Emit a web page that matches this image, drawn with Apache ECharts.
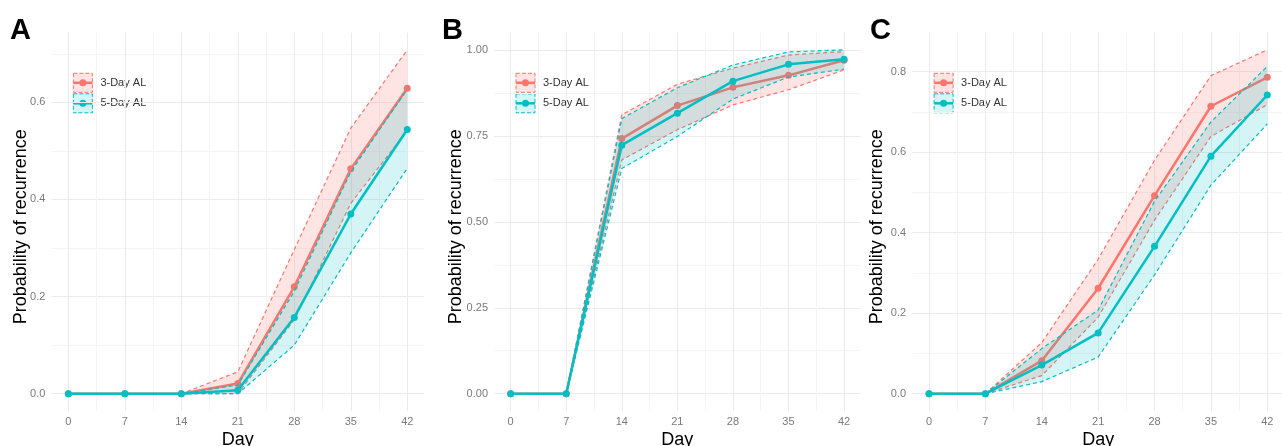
<!DOCTYPE html>
<html>
<head>
<meta charset="utf-8">
<script src="https://cdn.jsdelivr.net/npm/echarts@6/dist/echarts.min.js"></script>
<style>
  html, body { margin: 0; padding: 0; background: #ffffff; }
  #chart { width: 1282px; height: 446px; }
</style>
</head>
<body>
<div id="chart"></div>
<script>
// ---- data: probability of recurrence by day, estimate with lower/upper bounds ----
const days = [0, 7, 14, 21, 28, 35, 42];
const groupNames = ['3-Day AL', '5-Day AL'];

// Panel A
const estA3 = [0, 0, 0, 0.021, 0.220, 0.463, 0.629];
const lowA3 = [0, 0, 0, 0, 0.152, 0.392, 0.542];
const uppA3 = [0, 0, 0, 0.045, 0.297, 0.547, 0.708];
const estA5 = [0, 0, 0, 0.007, 0.157, 0.370, 0.544];
const lowA5 = [0, 0, 0, 0, 0.100, 0.290, 0.464];
const uppA5 = [0, 0, 0, 0.018, 0.211, 0.457, 0.627];

// Panel B
const estB3 = [0, 0, 0.742, 0.838, 0.891, 0.926, 0.970];
const lowB3 = [0, 0, 0.680, 0.768, 0.840, 0.884, 0.942];
const uppB3 = [0, 0, 0.811, 0.900, 0.947, 0.985, 0.995];
const estB5 = [0, 0, 0.723, 0.816, 0.909, 0.958, 0.973];
const lowB5 = [0, 0, 0.655, 0.748, 0.857, 0.921, 0.944];
const uppB5 = [0, 0, 0.800, 0.890, 0.956, 0.994, 1.000];

// Panel C
const estC3 = [0, 0, 0.082, 0.262, 0.492, 0.714, 0.786];
const lowC3 = [0, 0, 0.045, 0.190, 0.431, 0.639, 0.718];
const uppC3 = [0, 0, 0.127, 0.334, 0.580, 0.790, 0.854];
const estC5 = [0, 0, 0.071, 0.151, 0.366, 0.590, 0.742];
const lowC5 = [0, 0, 0.030, 0.091, 0.295, 0.518, 0.670];
const uppC5 = [0, 0, 0.112, 0.208, 0.478, 0.675, 0.813];

// ---- tick labels and grid breaks ----
const dayLabels = [0, 7, 14, 21, 28, 35, 42];
const dayBreaks = [0, 3.5, 7, 10.5, 14, 17.5, 21, 24.5, 28, 31.5, 35, 38.5, 42];
const yLabelsA = [0, 0.2, 0.4, 0.6];
const yBreaksA = [0, 0.1, 0.2, 0.3, 0.4, 0.5, 0.6, 0.7];
const yLabelsB = [0, 0.25, 0.5, 0.75, 1];
const yBreaksB = [0, 0.125, 0.25, 0.375, 0.5, 0.625, 0.75, 0.875, 1];
const yLabelsC = [0, 0.2, 0.4, 0.6, 0.8];
const yBreaksC = [0, 0.1, 0.2, 0.3, 0.4, 0.5, 0.6, 0.7, 0.8];

// ---- styling ----
const COLORS = ['#F8766D', '#00BFC4'];
const FILLS = ['rgba(248,118,109,0.2)', 'rgba(0,191,196,0.17)'];
const FONT = '"Liberation Sans", Arial, sans-serif';

const panels = [
  { letter: 'A', est: [estA3, estA5], low: [lowA3, lowA5], upp: [uppA3, uppA5],
    yLabels: yLabelsA, yBreaks: yBreaksA, digits: 1,
    left: 51.4, width: 372.8, letterX: 10, yNameGap: 21 },
  { letter: 'B', est: [estB3, estB5], low: [lowB3, lowB5], upp: [uppB3, uppB5],
    yLabels: yLabelsB, yBreaks: yBreaksB, digits: 2,
    left: 494.0, width: 366.7, letterX: 442, yNameGap: 29 },
  { letter: 'C', est: [estC3, estC5], low: [lowC3, lowC5], upp: [uppC3, uppC5],
    yLabels: yLabelsC, yBreaks: yBreaksC, digits: 1,
    left: 912.1, width: 372.1, letterX: 870, yNameGap: 26 }
];
const GRID_TOP = 32.7, GRID_H = 378.2;

const pairs = (ys) => days.map((d, i) => [d, ys[i]]);

// confidence band as one filled polygon: upper bound forward, lower bound back
function bandRenderer(low, upp, fill) {
  return function (params, api) {
    if (params.dataIndex !== 0) return null;
    const pts = [];
    for (let i = 0; i < days.length; i++) pts.push(api.coord([days[i], upp[i]]));
    for (let i = days.length - 1; i >= 0; i--) pts.push(api.coord([days[i], low[i]]));
    return { type: 'polygon', shape: { points: pts }, style: { fill: fill }, silent: true };
  };
}

const grid = [], xAxis = [], yAxis = [], series = [], graphic = [];

panels.forEach((p, k) => {
  grid.push({ left: p.left, top: GRID_TOP, width: p.width, height: GRID_H,
              containLabel: false, outerBoundsMode: 'none' });

  // 5% expansion on both axes
  const xSpan = days[days.length - 1] - days[0];
  const yTop = Math.max(...p.upp[0], ...p.upp[1]);

  xAxis.push({
    type: 'value', gridIndex: k,
    min: days[0] - 0.05 * xSpan, max: days[days.length - 1] + 0.05 * xSpan,
    axisLine: { show: false },
    axisTick: { show: false, customValues: dayBreaks },
    axisLabel: { customValues: dayLabels, color: '#7a7a7a', fontSize: 11, margin: 6, fontFamily: FONT },
    splitLine: { show: true, showMinLine: true, showMaxLine: true,
                 lineStyle: { color: ['#EBEBEB', '#F4F4F4'], width: 1 } },
    name: 'Day', nameLocation: 'middle', nameGap: 20, nameMoveOverlap: false,
    nameTextStyle: { fontSize: 18, color: '#000', fontFamily: FONT }
  });

  yAxis.push({
    type: 'value', gridIndex: k,
    min: -0.05 * yTop, max: 1.05 * yTop,
    axisLine: { show: false },
    axisTick: { show: false, customValues: p.yBreaks },
    axisLabel: { customValues: p.yLabels, color: '#7a7a7a', fontSize: 11, margin: 6, fontFamily: FONT,
                 formatter: (v) => Number(v).toFixed(p.digits) },
    splitLine: { show: true, showMinLine: true, showMaxLine: true,
                 lineStyle: { color: ['#EBEBEB', '#F4F4F4'], width: 1 } },
    name: 'Probability of recurrence', nameLocation: 'middle', nameGap: p.yNameGap, nameMoveOverlap: false,
    nameTextStyle: { fontSize: 18, color: '#000', fontFamily: FONT, padding: [0, 10, 0, 0] }
  });

  [0, 1].forEach((g) => {
    const zBand = 2 + g * 2, zLine = 3 + g * 2;
    // shaded band
    series.push({
      type: 'custom', xAxisIndex: k, yAxisIndex: k, silent: true, z: zBand,
      data: days.map((d, i) => [d, p.low[g][i], p.upp[g][i]]),
      encode: { x: 0, y: [1, 2] },
      renderItem: bandRenderer(p.low[g], p.upp[g], FILLS[g])
    });
    // dashed lower and upper bounds
    [p.low[g], p.upp[g]].forEach((bound) => {
      series.push({
        type: 'line', xAxisIndex: k, yAxisIndex: k, silent: true, z: zLine,
        data: pairs(bound), symbol: 'none',
        lineStyle: { color: COLORS[g], width: 1.2, type: [4, 3] }
      });
    });
    // estimate line with points
    series.push({
      type: 'line', name: groupNames[g], xAxisIndex: k, yAxisIndex: k, z: zLine,
      data: pairs(p.est[g]), symbol: 'circle', symbolSize: 7, showSymbol: true,
      lineStyle: { color: COLORS[g], width: 2.5 },
      itemStyle: { color: COLORS[g] }
    });
  });

  // panel letter
  graphic.push({
    type: 'text', left: p.letterX, top: 16, z: 100,
    style: { text: p.letter, font: 'bold 29px ' + FONT, fill: '#000' }
  });

  // legend keys: dashed box, line and point
  const lx = p.left + 22, ly = 73.3, box = 19, step = 20.5;
  const children = [];
  groupNames.forEach((name, g) => {
    const y0 = g * step;
    children.push({ type: 'rect', shape: { x: 0, y: y0, width: box, height: box },
      style: { fill: FILLS[g], stroke: COLORS[g], lineWidth: 1, lineDash: [4, 2] } });
    children.push({ type: 'line', shape: { x1: 0, y1: y0 + box / 2, x2: box, y2: y0 + box / 2 },
      style: { stroke: COLORS[g], lineWidth: 2.5 } });
    children.push({ type: 'circle', shape: { cx: box / 2, cy: y0 + box / 2, r: 3.5 },
      style: { fill: COLORS[g] } });
    children.push({ type: 'text', x: 27, y: y0 + box / 2,
      style: { text: name, font: '11px ' + FONT, fill: '#333', verticalAlign: 'middle' } });
  });
  graphic.push({ type: 'group', x: lx, y: ly, z: 100, children });
});

const chart = echarts.init(document.getElementById('chart'), null, { renderer: 'canvas' });
chart.setOption({
  animation: false,
  backgroundColor: '#ffffff',
  grid, xAxis, yAxis, series, graphic
});
</script>
</body>
</html>
